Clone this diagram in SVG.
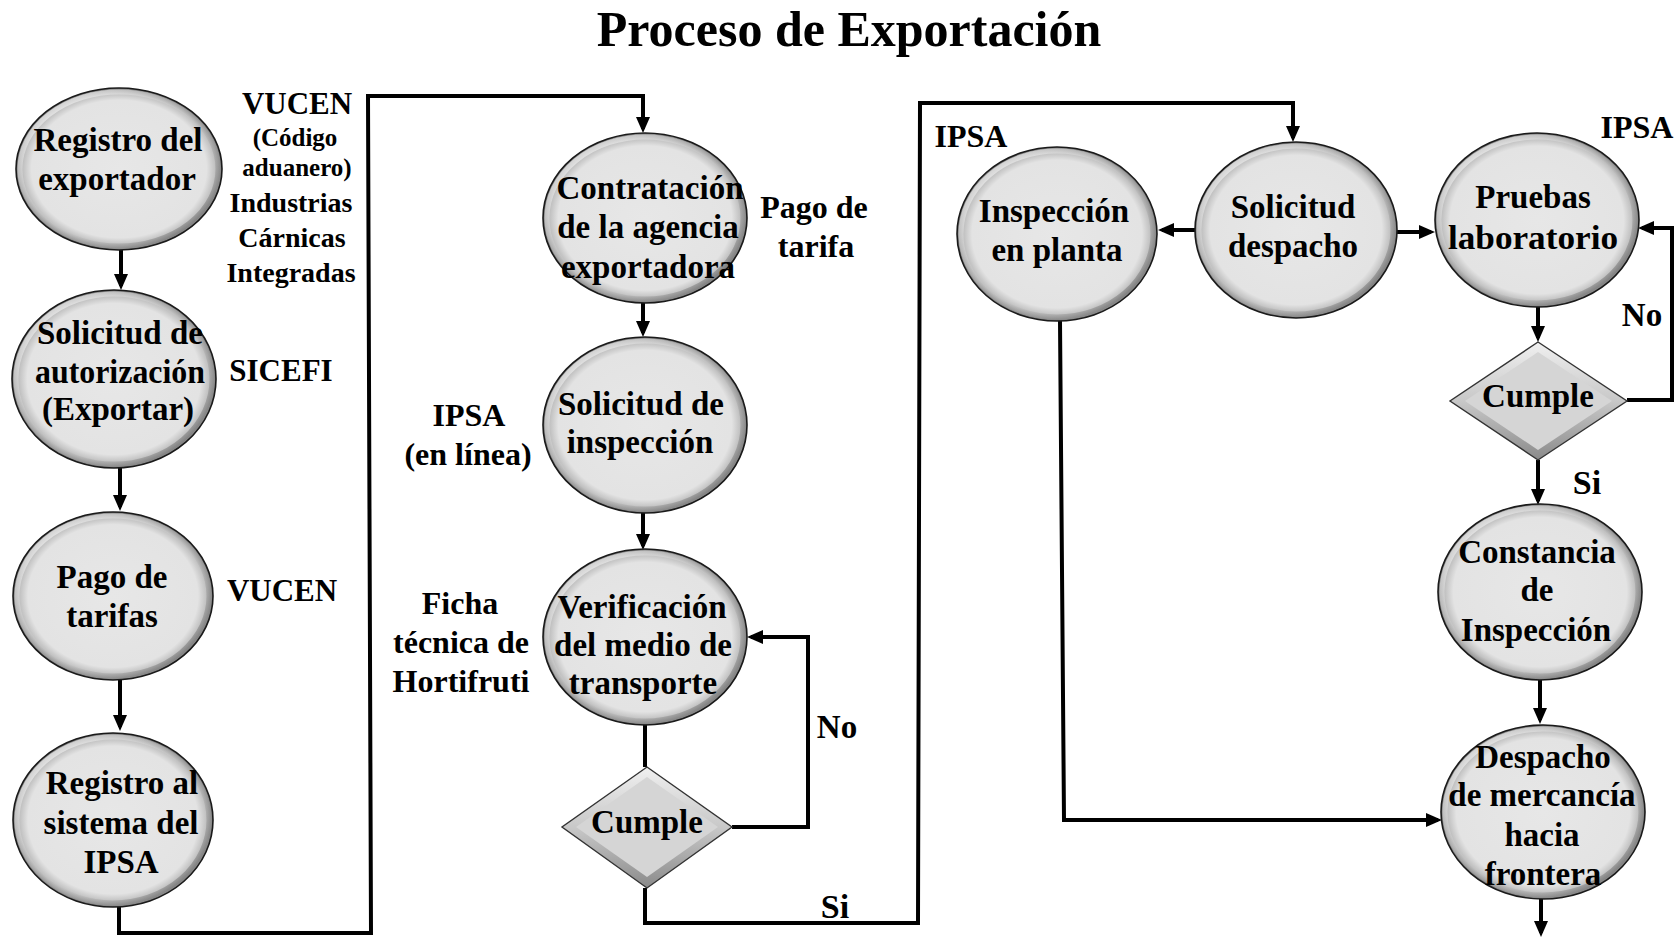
<svg xmlns="http://www.w3.org/2000/svg" width="1678" height="938" viewBox="0 0 1678 938">
<style>
.t{font-family:"Liberation Serif","Times New Roman",serif;font-weight:bold;font-size:33px;fill:#000;text-anchor:middle}
.lbl{font-family:"Liberation Serif","Times New Roman",serif;font-weight:bold;font-size:32px;fill:#000;text-anchor:middle}
.sm{font-size:25px}
.md{font-size:28px}
.ball{fill:url(#ballFill);stroke:#1a1a1a;stroke-width:1.6}
.rim{fill:none;stroke:url(#rim);stroke-width:5}
.dia{fill:url(#diaGrad);stroke:#333;stroke-width:1.4}
.diaIn{fill:#d5d5d5}
.conn{fill:none;stroke:#000;stroke-width:4;stroke-linejoin:miter}
.arr{marker-end:url(#ah)}
</style>
<defs>
<radialGradient id="ballFill" cx="0.5" cy="0.5" r="0.5">
<stop offset="0" stop-color="#e7e7e7"/>
<stop offset="0.85" stop-color="#e3e3e3"/>
<stop offset="0.93" stop-color="#c2c2c2"/>
<stop offset="0.985" stop-color="#8a8a8a"/>
<stop offset="1" stop-color="#707070"/>
</radialGradient>
<linearGradient id="rim" x1="0" y1="0" x2="1" y2="1">
<stop offset="0" stop-color="#ffffff" stop-opacity="0.9"/>
<stop offset="0.5" stop-color="#cccccc" stop-opacity="0.2"/>
<stop offset="1" stop-color="#555555" stop-opacity="0.7"/>
</linearGradient>
<linearGradient id="diaGrad" x1="0" y1="0" x2="0" y2="1">
<stop offset="0" stop-color="#f0f0f0"/>
<stop offset="0.5" stop-color="#c8c8c8"/>
<stop offset="1" stop-color="#8a8a8a"/>
</linearGradient>
<marker id="ah" markerUnits="userSpaceOnUse" viewBox="0 0 16 14" markerWidth="16" markerHeight="14" refX="12" refY="7" orient="auto">
<path d="M0,0 L16,7 L0,14 z" fill="#000"/>
</marker>
</defs>
<rect width="1678" height="938" fill="#fff"/>

<text id="title" x="849" y="46" class="t" style="font-size:50px">Proceso de Exportación</text>

<g id="connectors">
<path class="conn arr" d="M121,250 V286"/>
<path class="conn arr" d="M120,468 V507"/>
<path class="conn arr" d="M120,680 V727"/>
<path class="conn arr" d="M119,907 V933 H371 L368,96 H643 V129"/>
<path class="conn arr" d="M643,303 V333"/>
<path class="conn arr" d="M643,513 V546"/>
<path class="conn" d="M645,725 V767"/>
<path class="conn arr" d="M732,827 H808 V637 H751"/>
<path class="conn arr" d="M645,888 V923 H918 L920,103 H1293 V138"/>
<path class="conn arr" d="M1195,230 H1162"/>
<path class="conn arr" d="M1397,232 H1431"/>
<path class="conn arr" d="M1538,307 V338"/>
<path class="conn arr" d="M1627,400 H1672 V228 H1642"/>
<path class="conn arr" d="M1538,460 V501"/>
<path class="conn arr" d="M1540,680 V720"/>
<path class="conn arr" d="M1541,899 V933"/>
<path class="conn arr" d="M1060,321 L1064,820 H1438"/>
</g>

<g id="labels">
<text class="lbl" x="297" y="114" style="font-size:31px">VUCEN</text>
<text class="lbl sm" x="295" y="146">(Código</text>
<text class="lbl sm" x="297" y="176">aduanero)</text>
<text class="lbl md" x="291" y="212">Industrias</text>
<text class="lbl md" x="292" y="247">Cárnicas</text>
<text class="lbl md" x="291" y="282">Integradas</text>
<text class="lbl" x="281" y="381" style="font-size:31px">SICEFI</text>
<text class="lbl" x="282" y="601" style="font-size:31px">VUCEN</text>
<text class="lbl" x="814" y="218">Pago de</text>
<text class="lbl" x="816" y="257">tarifa</text>
<text class="lbl" x="469" y="426">IPSA</text>
<text class="lbl" x="468" y="465">(en línea)</text>
<text class="lbl" x="460" y="614">Ficha</text>
<text class="lbl" x="461" y="653">técnica de</text>
<text class="lbl" x="461" y="692">Hortifruti</text>
<text class="lbl" x="837" y="738" style="font-size:33px">No</text>
<text class="lbl" x="835" y="918" style="font-size:34px">Si</text>
<text class="lbl" x="971" y="147">IPSA</text>
<text class="lbl" x="1637" y="138">IPSA</text>
<text class="lbl" x="1642" y="326" style="font-size:33px">No</text>
<text class="lbl" x="1587" y="494" style="font-size:34px">Si</text>
</g>

<g id="n1"><ellipse class="ball" cx="119" cy="169" rx="103" ry="81"/><ellipse class="rim" cx="119" cy="169" rx="99" ry="77"/>
<text class="t" x="118" y="151">Registro del</text><text class="t" x="117" y="190">exportador</text></g>

<g id="n2"><ellipse class="ball" cx="114" cy="379" rx="102" ry="89"/><ellipse class="rim" cx="114" cy="379" rx="98" ry="85"/>
<text class="t" x="120" y="344">Solicitud de</text><text class="t" x="120" y="383" textLength="170" lengthAdjust="spacingAndGlyphs">autorización</text><text class="t" x="118" y="420">(Exportar)</text></g>

<g id="n3"><ellipse class="ball" cx="113" cy="596" rx="100" ry="84"/><ellipse class="rim" cx="113" cy="596" rx="96" ry="80"/>
<text class="t" x="112" y="588">Pago de</text><text class="t" x="112" y="627">tarifas</text></g>

<g id="n4"><ellipse class="ball" cx="113" cy="820" rx="100" ry="87"/><ellipse class="rim" cx="113" cy="820" rx="96" ry="83"/>
<text class="t" x="122" y="794">Registro al</text><text class="t" x="121" y="834">sistema del</text><text class="t" x="121" y="873">IPSA</text></g>

<g id="n5"><ellipse class="ball" cx="645" cy="218" rx="102" ry="85"/><ellipse class="rim" cx="645" cy="218" rx="98" ry="81"/>
<text class="t" x="650" y="199">Contratación</text><text class="t" x="648" y="238">de la agencia</text><text class="t" x="648" y="278">exportadora</text></g>

<g id="n6"><ellipse class="ball" cx="645" cy="425" rx="102" ry="88"/><ellipse class="rim" cx="645" cy="425" rx="98" ry="84"/>
<text class="t" x="641" y="415">Solicitud de</text><text class="t" x="640" y="453">inspección</text></g>

<g id="n7"><ellipse class="ball" cx="645" cy="637" rx="102" ry="88"/><ellipse class="rim" cx="645" cy="637" rx="98" ry="84"/>
<text class="t" x="642" y="618">Verificación</text><text class="t" x="643" y="656">del medio de</text><text class="t" x="643" y="694">transporte</text></g>

<g id="d1"><polygon class="dia" points="647,767 732,827 647,888 562,827"/><polygon class="diaIn" points="647,777 718,827 647,877 576,827"/>
<text class="t" x="647" y="833">Cumple</text></g>

<g id="n8"><ellipse class="ball" cx="1057" cy="234" rx="100" ry="87"/><ellipse class="rim" cx="1057" cy="234" rx="96" ry="83"/>
<text class="t" x="1054" y="222">Inspección</text><text class="t" x="1057" y="261">en planta</text></g>

<g id="n9"><ellipse class="ball" cx="1296" cy="230" rx="101" ry="88"/><ellipse class="rim" cx="1296" cy="230" rx="97" ry="84"/>
<text class="t" x="1293" y="218">Solicitud</text><text class="t" x="1293" y="257">despacho</text></g>

<g id="n10"><ellipse class="ball" cx="1537" cy="220" rx="102" ry="87"/><ellipse class="rim" cx="1537" cy="220" rx="98" ry="83"/>
<text class="t" x="1533" y="208">Pruebas</text><text class="t" x="1533" y="249" textLength="170" lengthAdjust="spacingAndGlyphs">laboratorio</text></g>

<g id="d2"><polygon class="dia" points="1538,342 1627,401 1538,460 1450,401"/><polygon class="diaIn" points="1538,352 1612,401 1538,450 1465,401"/>
<text class="t" x="1538" y="407">Cumple</text></g>

<g id="n11"><ellipse class="ball" cx="1540" cy="592" rx="102" ry="88"/><ellipse class="rim" cx="1540" cy="592" rx="98" ry="84"/>
<text class="t" x="1537" y="563">Constancia</text><text class="t" x="1537" y="601">de</text><text class="t" x="1536" y="641">Inspección</text></g>

<g id="n12"><ellipse class="ball" cx="1543" cy="812" rx="102" ry="87"/><ellipse class="rim" cx="1543" cy="812" rx="98" ry="83"/>
<text class="t" x="1543" y="768">Despacho</text><text class="t" x="1542" y="806">de mercancía</text><text class="t" x="1542" y="846">hacia</text><text class="t" x="1543" y="885">frontera</text></g>
</svg>
